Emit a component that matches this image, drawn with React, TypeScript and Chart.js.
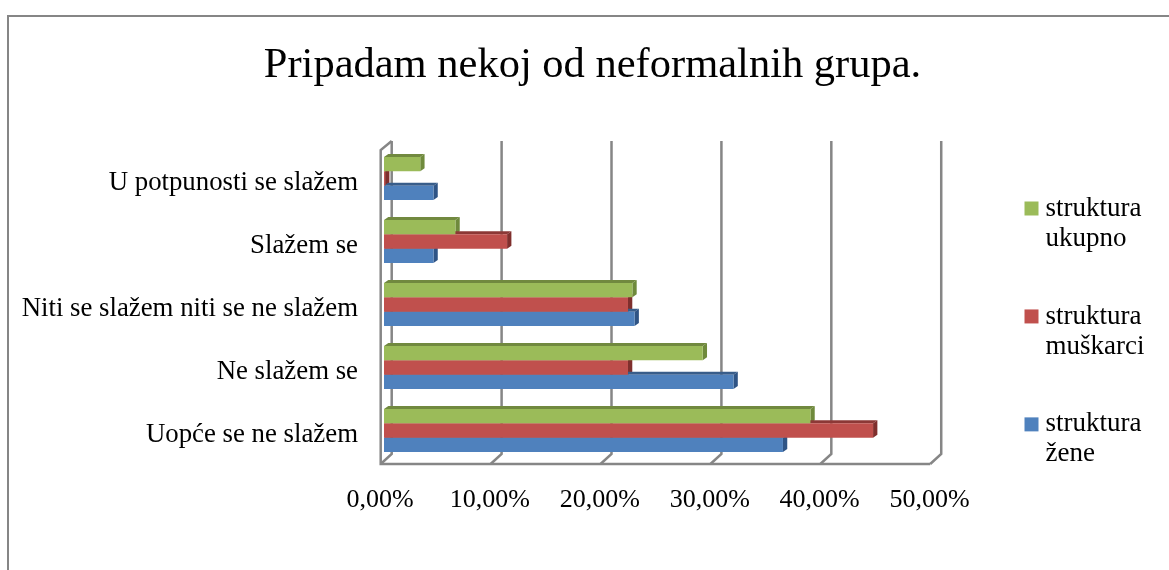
import React, { useEffect, useRef } from "react";
import { Chart, registerables } from "chart.js";

Chart.register(...registerables);

const titleText = "Pripadam nekoj od neformalnih grupa.";
const categories = [
  "U potpunosti se slažem",
  "Slažem se",
  "Niti se slažem niti se ne slažem",
  "Ne slažem se",
  "Uopće se ne slažem",
];
const strukturaUkupno = [3.3, 6.5, 22.6, 29.0, 38.8];
const strukturaMuskarci = [0.1, 11.2, 22.2, 22.2, 44.5];
const strukturaZene = [4.5, 4.5, 22.8, 31.8, 36.3];
const legendUkupno = ["struktura", "ukupno"];
const legendMuskarci = ["struktura", "muškarci"];
const legendZene = ["struktura", "žene"];

const FONT = "'Liberation Serif', 'Times New Roman', serif";
const GRID = "#868686";
const FACE = ["#9BBB59", "#C0504D", "#4F81BD"];
const TOP = ["#71893F", "#8C3836", "#385D8A"];
const SIDE = ["#6F8A3C", "#7F2F2D", "#2F5485"];

const scene3d = {
  id: "scene3d",
  afterLayout(chart: any) {
    const lg = chart.legend;
    const h = lg.bottom - lg.top;
    lg.left = 983;
    lg.right = 1169;
    lg.top = 147;
    lg.bottom = 147 + h;
    const tb = chart.titleBlock;
    tb.left += 33.5;
    tb.right += 33.5;
  },
  beforeDatasetsDraw(chart: any) {
    const { ctx, scales, chartArea } = chart;
    const x = scales.x;
    const front = chartArea.bottom + 2;
    const backBottom = front - 10;
    const top = chartArea.top - 6;
    ctx.save();
    ctx.strokeStyle = GRID;
    ctx.lineWidth = 2.5;
    const vals = x.ticks.map((t: any) => t.value);
    for (const v of vals) {
      const px = x.getPixelForValue(v);
      ctx.beginPath();
      ctx.moveTo(px + 7.7, top);
      ctx.lineTo(px + 7.7, backBottom);
      ctx.lineTo(px - 3.3, front);
      ctx.stroke();
    }
    const x0 = x.getPixelForValue(vals[0]);
    const x1 = x.getPixelForValue(vals[vals.length - 1]);
    ctx.beginPath();
    ctx.moveTo(x0 + 7.7, top);
    ctx.lineTo(x0 - 3.3, top + 9);
    ctx.lineTo(x0 - 3.3, front);
    ctx.lineTo(x1 - 3.3, front);
    ctx.stroke();
    const dx = 4.3;
    const dy = 3;
    chart.data.datasets.forEach((_d: any, di: number) => {
      chart.getDatasetMeta(di).data.forEach((b: any) => {
        const t = b.y - b.height / 2;
        const bt = b.y + b.height / 2;
        ctx.fillStyle = TOP[di];
        ctx.beginPath();
        ctx.moveTo(b.base, t);
        ctx.lineTo(b.base + dx, t - dy);
        ctx.lineTo(b.x + dx, t - dy);
        ctx.lineTo(b.x, t);
        ctx.closePath();
        ctx.fill();
        ctx.fillStyle = SIDE[di];
        ctx.beginPath();
        ctx.moveTo(b.x, t);
        ctx.lineTo(b.x + dx, t - dy);
        ctx.lineTo(b.x + dx, bt - dy);
        ctx.lineTo(b.x, bt);
        ctx.closePath();
        ctx.fill();
      });
    });
    ctx.restore();
  },
};

export default function App() {
  const ref = useRef<HTMLCanvasElement>(null);
  useEffect(() => {
    const chart = new Chart(ref.current as HTMLCanvasElement, {
      type: "bar",
      plugins: [scene3d],
      data: {
        labels: categories,
        datasets: [
          { label: legendUkupno as any, data: strukturaUkupno, backgroundColor: FACE[0] },
          { label: legendMuskarci as any, data: strukturaMuskarci, backgroundColor: FACE[1] },
          { label: legendZene as any, data: strukturaZene, backgroundColor: FACE[2] },
        ],
      },
      options: {
        indexAxis: "y",
        animation: false,
        responsive: false,
        layout: { padding: { left: 16, right: 67, top: 0, bottom: 0 } },
        datasets: { bar: { categoryPercentage: 0.68, barPercentage: 1 } },
        plugins: {
          tooltip: { enabled: false },
          title: {
            display: true,
            text: titleText,
            color: "#000",
            font: { family: FONT, size: 42.5, weight: "normal" },
            padding: { top: 40, bottom: 56 },
          },
          legend: {
            position: "right",
            align: "start",
            labels: {
              color: "#000",
              font: { family: FONT, size: 27, lineHeight: 1.11 },
              boxWidth: 1,
              boxHeight: 1,
              padding: 48,
              generateLabels: (chart: any) =>
                Chart.defaults.plugins.legend.labels
                  .generateLabels(chart)
                  .map((it: any) => ({ ...it, lineWidth: 13, strokeStyle: it.fillStyle })),
            },
          },
        },
        scales: {
          x: {
            type: "linear",
            min: 0,
            max: 50,
            grid: { display: false },
            border: { display: false },
            afterFit: (s: any) => {
              s.height = 108;
            },
            ticks: {
              stepSize: 10,
              color: "#000",
              padding: 15,
              maxRotation: 0,
              labelOffset: -4,
              font: { family: FONT, size: 26 },
              callback: (v: any) => Number(v).toFixed(2).replace(".", ",") + "%",
            },
          },
          y: {
            type: "category",
            grid: { display: false },
            border: { display: false },
            afterFit: (s: any) => {
              s.width = 368;
            },
            ticks: {
              color: "#000",
              padding: 18,
              labelOffset: 4,
              font: { family: FONT, size: 26.8 },
            },
          },
        },
      },
    } as any);
    return () => chart.destroy();
  }, []);
  return (
    <div style={{ position: "fixed", inset: 0, overflow: "hidden", background: "#fff" }}>
      <div
        style={{
          position: "absolute",
          left: 7,
          top: 15,
          width: 1300,
          height: 700,
          border: "2px solid #868686",
          boxSizing: "border-box",
        }}
      />
      <canvas
        ref={ref}
        width={1169}
        height={570}
        style={{ position: "absolute", left: 0, top: 0, display: "block" }}
      />
    </div>
  );
}
